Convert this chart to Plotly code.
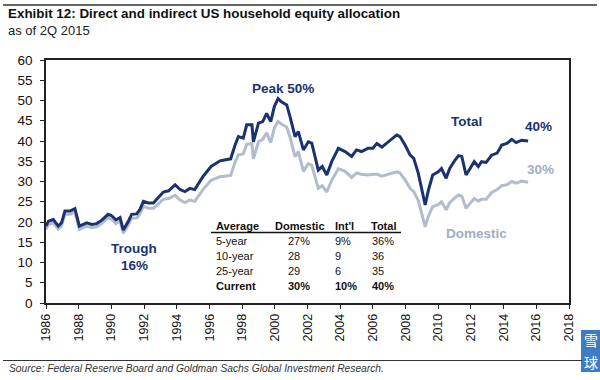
import plotly.graph_objects as go

# ---- data ----
dates = [1986.0, 1986.15, 1986.45, 1986.75, 1986.95, 1987.16, 1987.47, 1987.77, 1988.04, 1988.3,
         1988.49, 1988.8, 1989.1, 1989.4, 1989.8, 1990.0, 1990.28, 1990.53, 1990.73, 1991.04,
         1991.24, 1991.55, 1991.75, 1991.96, 1992.26, 1992.57, 1992.87, 1993.18, 1993.5, 1993.7,
         1993.9, 1994.2, 1994.5, 1994.8, 1995.1, 1995.6, 1996.1, 1996.65, 1997.15, 1997.3,
         1997.57, 1997.77, 1998.07, 1998.28, 1998.6, 1998.69, 1999.0, 1999.26, 1999.5, 1999.75,
         1999.97, 2000.2, 2000.4, 2000.73, 2000.93, 2001.24, 2001.44, 2001.75, 2002.05, 2002.26,
         2002.66, 2002.9, 2003.18, 2003.48, 2003.89, 2004.3, 2004.7, 2005.0, 2005.3, 2005.7,
         2006.0, 2006.24, 2006.55, 2007.05, 2007.46, 2007.66, 2007.97, 2008.28, 2008.5, 2008.78,
         2008.99, 2009.2, 2009.4, 2009.66, 2010.0, 2010.2, 2010.48, 2010.7, 2011.03, 2011.24,
         2011.44, 2011.7, 2011.95, 2012.2, 2012.45, 2012.65, 2012.93, 2013.27, 2013.6, 2013.89,
         2014.2, 2014.5, 2014.77, 2015.1, 2015.5]

total = [19.0, 20.2, 20.6, 19.0, 19.8, 22.7, 22.7, 23.3, 19.0, 19.4,
         19.8, 19.4, 19.6, 20.4, 21.9, 21.6, 20.5, 21.1, 18.0, 20.2,
         21.9, 22.0, 23.1, 25.1, 24.7, 24.7, 25.9, 27.4, 27.7, 28.4,
         29.2, 28.0, 27.5, 28.3, 28.0, 31.2, 33.7, 35.1, 35.5, 35.6,
         39.0, 41.1, 40.7, 44.0, 44.0, 39.8, 44.4, 44.8, 46.8, 44.8,
         48.5, 50.5, 49.7, 48.9, 46.0, 41.1, 42.3, 37.8, 39.8, 39.5,
         32.8, 33.7, 31.6, 34.9, 38.2, 37.4, 36.2, 37.8, 37.4, 38.2,
         38.2, 39.4, 38.5, 40.2, 41.5, 41.1, 39.0, 36.5, 35.7, 32.0,
         27.9, 24.2, 27.9, 31.6, 32.4, 33.2, 30.8, 33.2, 35.3, 36.4,
         36.2, 31.6, 33.2, 34.9, 33.7, 34.9, 34.7, 36.5, 37.0, 39.0,
         39.4, 40.4, 39.6, 40.2, 40.0]

domestic = [18.2, 19.4, 19.8, 18.2, 19.0, 21.9, 21.9, 22.5, 18.2, 18.6,
            19.0, 18.6, 18.8, 19.6, 21.0, 20.7, 19.6, 20.2, 17.2, 19.3,
            20.9, 21.0, 22.0, 23.9, 23.4, 23.4, 24.5, 25.6, 25.8, 26.2,
            26.6, 25.4, 24.8, 25.4, 25.1, 28.0, 30.3, 31.2, 31.4, 31.5,
            34.8, 36.6, 36.8, 39.2, 39.4, 35.6, 39.8, 40.4, 42.0, 39.6,
            43.2, 44.8, 44.2, 43.4, 41.0, 36.1, 37.4, 32.5, 34.4, 34.0,
            28.3, 29.0, 27.4, 30.3, 33.2, 32.5, 31.0, 32.1, 31.8, 31.6,
            31.8, 31.8, 31.3, 32.0, 32.4, 32.1, 30.4, 28.3, 27.5, 25.3,
            22.0, 18.8, 21.5, 23.8, 24.3, 25.0, 23.0, 24.8, 26.0, 26.7,
            26.4, 23.4, 24.6, 25.8, 25.2, 25.6, 25.6, 27.3, 28.0, 29.0,
            29.2, 30.0, 29.6, 30.1, 29.8]

x_ticks = list(range(1986, 2019, 2))
y_ticks = list(range(0, 61, 5))

table_header = ["Average", "Domestic", "Int'l", "Total"]
table_rows = ["5-year", "10-year", "25-year", "Current"]
table_domestic = ["27%", "28", "29", "30%"]
table_intl = ["9%", "9", "6", "10%"]
table_total = ["36%", "36", "35", "40%"]

# ---- styles ----
NAVY = "#1a3370"
LIGHT = "#b3bccd"
LIGHT_TXT = "#a3adc3"
FONT = "Liberation Sans, Arial, sans-serif"

W, H = 600, 380
ML, MR, MT, MB = 46, 31, 60, 77
PW, PH = W - ML - MR, H - MT - MB


def px(x):
    return (x - ML) / PW


def py(y):
    return (H - MB - y) / PH


fig = go.Figure()
fig.add_trace(go.Scatter(x=dates, y=domestic, mode="lines", name="Domestic",
                         line=dict(color=LIGHT, width=3), hoverinfo="skip"))
fig.add_trace(go.Scatter(x=dates, y=total, mode="lines", name="Total",
                         line=dict(color=NAVY, width=3), hoverinfo="skip"))

ann = []


def txt(x, y, s, size, color="#000", bold=False, italic=False, xanchor="left"):
    if bold:
        s = "<b>" + s + "</b>"
    if italic:
        s = "<i>" + s + "</i>"
    ann.append(dict(x=x, y=y, xref="paper", yref="paper", text=s, showarrow=False,
                    xanchor=xanchor, yanchor="middle",
                    font=dict(family=FONT, size=size, color=color)))


# title block
txt(px(6), py(14), "Exhibit 12: Direct and indirect US household equity allocation", 13.4, "#111", bold=True)
txt(px(6), py(31), "as of 2Q 2015", 13, "#222")
txt(px(7), py(369), "Source: Federal Reserve Board and Goldman Sachs Global Investment Research.", 10.25, "#333", italic=True)

# chart labels
txt(px(283), py(88), "Peak 50%", 13.5, NAVY, bold=True, xanchor="center")
txt(px(466), py(122), "Total", 13.5, NAVY, bold=True, xanchor="center")
txt(px(538), py(127), "40%", 13.5, NAVY, bold=True, xanchor="center")
txt(px(540), py(169), "30%", 13.5, LIGHT_TXT, bold=True, xanchor="center")
txt(px(476), py(233), "Domestic", 13.5, LIGHT_TXT, bold=True, xanchor="center")
txt(px(134), py(248), "Trough", 13.5, NAVY, bold=True, xanchor="center")
txt(px(134), py(265), "16%", 13.5, NAVY, bold=True, xanchor="center")

# table
col_x_head = [214, 273, 333, 369]
col_x_val = [214, 286, 333, 370]
row_y = [241, 256, 270.5, 285.5]
for cx, h in zip(col_x_head, table_header):
    txt(px(cx), py(226.5), h, 11, "#111", bold=True)
for i, r in enumerate(table_rows):
    b = (r == "Current")
    txt(px(col_x_val[0]), py(row_y[i]), r, 11, "#111", bold=b)
    txt(px(col_x_val[1]), py(row_y[i]), table_domestic[i], 11, "#111", bold=b)
    txt(px(col_x_val[2]), py(row_y[i]), table_intl[i], 11, "#111", bold=b)
    txt(px(col_x_val[3]), py(row_y[i]), table_total[i], 11, "#111", bold=b)

# watermark text
for ch, yy in (("雪", 340), ("球", 362)):
    ann.append(dict(x=px(590.5), y=py(yy), xref="paper", yref="paper", text=ch, showarrow=False,
                    xanchor="center", yanchor="middle",
                    font=dict(family="Noto Sans CJK SC", size=14, color="white")))

shapes = [
    # table underline
    dict(type="line", xref="paper", yref="paper", x0=px(211), x1=px(401), y0=py(232.5), y1=py(232.5),
         line=dict(color="#111", width=1.5)),
    # top rule
    dict(type="line", xref="paper", yref="paper", x0=px(3), x1=px(597), y0=py(5), y1=py(5),
         line=dict(color="#333", width=1.5)),
    # bottom rule
    dict(type="line", xref="paper", yref="paper", x0=px(3), x1=px(582), y0=py(360.5), y1=py(360.5),
         line=dict(color="#333", width=1.2)),
    # watermark box
    dict(type="rect", xref="paper", yref="paper", x0=px(581), x1=px(600), y0=py(372), y1=py(330),
         fillcolor="#3d7cc0", line=dict(width=0), layer="below"),
]

fig.update_layout(
    width=W, height=H,
    margin=dict(l=ML, r=MR, t=MT, b=MB),
    paper_bgcolor="white", plot_bgcolor="white",
    showlegend=False,
    font=dict(family=FONT, color="#111"),
    xaxis=dict(range=[1986, 2018], tickvals=x_ticks, ticktext=[str(v) for v in x_ticks],
               tickangle=-90, ticks="outside", ticklen=4, tickcolor="#222",
               showline=True, linecolor="#222", linewidth=1.5, mirror=True,
               showgrid=False, zeroline=False, tickfont=dict(size=12.5, color="#111")),
    yaxis=dict(range=[0, 60], tickvals=y_ticks, ticks="outside", ticklen=4, tickcolor="#222",
               ticklabelstandoff=5,
               showline=True, linecolor="#222", linewidth=1.5, mirror=True,
               showgrid=False, zeroline=False, tickfont=dict(size=13.5, color="#111")),
    annotations=ann,
    shapes=shapes,
)

fig.write_html("out.html", config={"displayModeBar": False},
               post_script="document.body.style.margin='0';document.body.style.overflow='hidden';")
